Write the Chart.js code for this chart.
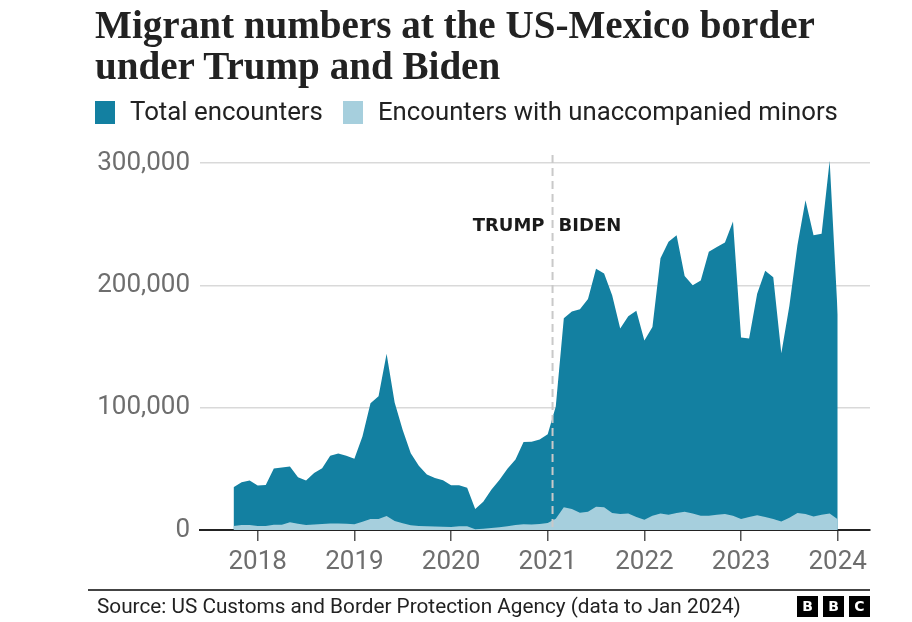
<!DOCTYPE html>
<html>
<head>
<meta charset="utf-8">
<script src="https://cdn.jsdelivr.net/npm/chart.js@4.4.0/dist/chart.umd.min.js"></script>
<style>
html,body{margin:0;padding:0;background:#fff;}
#wrap{position:relative;width:912px;height:622px;overflow:hidden;background:#fff;}
#c{position:absolute;left:0;top:0;}
.t{position:absolute;white-space:nowrap;margin:0;padding:0;}
.sq{position:absolute;width:20px;height:23px;}
.rule{position:absolute;left:88px;top:589px;width:782px;height:1.5px;background:#444;}
.bbc{position:absolute;top:596px;width:21px;height:21px;background:#000;color:#fff;font:700 14px "DejaVu Sans",sans-serif;line-height:21px;text-align:center;}
</style>
</head>
<body>
<div id="wrap">
  <canvas id="c" width="912" height="622"></canvas>
  <div class="t" id="title1"></div>
  <div class="t" id="title2"></div>
  <div class="sq" style="left:95px;top:101px;background:#1380a1"></div>
  <div class="t" id="leg1"></div>
  <div class="sq" style="left:343px;top:101px;background:#a6cfdd"></div>
  <div class="t" id="leg2"></div>
  <div class="rule"></div>
  <div class="t" id="source"></div>
  <div class="bbc" style="left:797px">B</div>
  <div class="bbc" style="left:823px">B</div>
  <div class="bbc" style="left:849px">C</div>
</div>
<script>
// ---------------- DATA ----------------
const months = [
  "2017-10","2017-11","2017-12",
  "2018-01","2018-02","2018-03","2018-04","2018-05","2018-06","2018-07","2018-08","2018-09","2018-10","2018-11","2018-12",
  "2019-01","2019-02","2019-03","2019-04","2019-05","2019-06","2019-07","2019-08","2019-09","2019-10","2019-11","2019-12",
  "2020-01","2020-02","2020-03","2020-04","2020-05","2020-06","2020-07","2020-08","2020-09","2020-10","2020-11","2020-12",
  "2021-01","2021-02","2021-03","2021-04","2021-05","2021-06","2021-07","2021-08","2021-09","2021-10","2021-11","2021-12",
  "2022-01","2022-02","2022-03","2022-04","2022-05","2022-06","2022-07","2022-08","2022-09","2022-10","2022-11","2022-12",
  "2023-01","2023-02","2023-03","2023-04","2023-05","2023-06","2023-07","2023-08","2023-09","2023-10","2023-11","2023-12",
  "2024-01"
];
const totalEncounters = [
  34900, 39100, 40500,
  36500, 36800, 50300, 51200, 51900, 43200, 40500, 46700, 50600, 60800, 62500, 60800,
  58300, 76500, 103700, 109400, 144100, 104300, 81800, 62700, 52500, 45300, 42600, 40600,
  36600, 36700, 34500, 17100, 23200, 33000, 40900, 50000, 57700, 71900, 72100, 74000,
  78400, 101100, 173300, 178800, 180600, 189000, 213600, 209800, 192000, 164800, 174800, 179300,
  154900, 166000, 222200, 235800, 241100, 207800, 200200, 204100, 227500, 231500, 235200, 252300,
  157400, 156600, 193200, 212000, 206700, 144600, 183500, 233000, 269700, 241000, 242400, 302000,
  176200
];
const unaccompaniedMinors = [
  3200, 4000, 4100,
  3200, 3200, 4200, 4300, 6400, 5100, 4000, 4400, 4900, 5300, 5300, 5200,
  4800, 6800, 9000, 8900, 11500, 7400, 5600, 3900, 3200, 3100, 2800, 2600,
  2500, 3100, 3100, 700, 1000, 1600, 2300, 3100, 4100, 4800, 4400, 4900,
  5700, 9300, 18700, 17100, 14100, 15000, 19000, 18700, 14000, 13000, 13500, 10600,
  8400, 11700, 13500, 12400, 14000, 15000, 13500, 11700, 11700, 12400, 13000, 11700,
  9000, 10600, 12000, 10600, 9000, 7000, 10000, 14000, 13000, 11000, 12500, 13500,
  8700
];
const yearTicks = [2018, 2019, 2020, 2021, 2022, 2023, 2024];
const valueTicks = [0, 100000, 200000, 300000];
const inauguration = 2021.05; // Jan 20, 2021 (Trump -> Biden)

const titleLines = ["Migrant numbers at the US-Mexico border", "under Trump and Biden"];
const legendLabels = ["Total encounters", "Encounters with unaccompanied minors"];
const sourceText = "Source: US Customs and Border Protection Agency (data to Jan 2024)";

// ---------------- TEXT PLACEMENT ----------------
const meas = document.createElement('canvas').getContext('2d');
function fitSize(family, weight, text, targetW){
  meas.font = weight + ' 100px ' + family;
  return 100 * targetW / meas.measureText(text).width;
}
function place(id, family, weight, size, text, left, baseline, color){
  const el = document.getElementById(id);
  meas.font = weight + ' ' + size + 'px ' + family;
  const m = meas.measureText(text);
  const A = m.fontBoundingBoxAscent, D = m.fontBoundingBoxDescent;
  el.textContent = text;
  el.style.font = weight + ' ' + size + 'px ' + family;
  el.style.lineHeight = size + 'px';
  el.style.color = color;
  el.style.left = left + 'px';
  el.style.top = (baseline - A - (size - A - D) / 2) + 'px';
}
const serif = '"Liberation Serif", serif';
const sans = 'Roboto, "Open Sans", sans-serif';
const tSize = fitSize(serif, 700, titleLines[0], 720);
place('title1', serif, 700, tSize, titleLines[0], 95, 38, '#222');
place('title2', serif, 700, tSize, titleLines[1], 95, 79, '#222');
place('leg1', sans, 400, fitSize(sans, 400, legendLabels[0], 193), legendLabels[0], 130, 121, '#222');
place('leg2', sans, 400, fitSize(sans, 400, legendLabels[1], 460), legendLabels[1], 378, 121, '#222');
place('source', sans, 400, fitSize(sans, 400, sourceText, 644), sourceText, 97, 613, '#222');

// ---------------- CHART ----------------
function toYear(s){ const p = s.split('-'); return +p[0] + (+p[1] - 1) / 12; }

const eraPlugin = {
  id: 'era',
  afterDatasetsDraw(chart){
    const {ctx, scales:{x, y}} = chart;
    const px = x.getPixelForValue(inauguration);
    ctx.save();
    ctx.strokeStyle = '#c9c9c9';
    ctx.lineWidth = 2;
    ctx.setLineDash([8, 5]);
    ctx.beginPath();
    ctx.moveTo(px, 155);
    ctx.lineTo(px, y.getPixelForValue(0));
    ctx.stroke();
    ctx.setLineDash([]);
    ctx.fillStyle = '#1a1a1a';
    ctx.font = '700 18px "DejaVu Sans", sans-serif';
    ctx.textBaseline = 'alphabetic';
    ctx.textAlign = 'right';
    ctx.fillText('TRUMP', px - 8, 231);
    ctx.textAlign = 'left';
    ctx.fillText('BIDEN', px + 6, 231);
    ctx.restore();
  }
};

new Chart(document.getElementById('c'), {
  type: 'line',
  data: {
    datasets: [
      {
        label: legendLabels[1],
        data: months.map((m, i) => ({x: toYear(m), y: unaccompaniedMinors[i]})),
        backgroundColor: '#a6cfdd',
        borderWidth: 0,
        pointRadius: 0,
        fill: 'origin',
        tension: 0,
        order: 0
      },
      {
        label: legendLabels[0],
        data: months.map((m, i) => ({x: toYear(m), y: totalEncounters[i]})),
        backgroundColor: '#1380a1',
        borderWidth: 0,
        pointRadius: 0,
        fill: 'origin',
        tension: 0,
        order: 1
      }
    ]
  },
  options: {
    responsive: false,
    animation: false,
    devicePixelRatio: 1,
    layout: {padding: {top: 151, right: 42, left: 0, bottom: 0}},
    plugins: {legend: {display: false}, tooltip: {enabled: false}},
    scales: {
      x: {
        type: 'linear',
        min: 2017.403,
        max: 2024.334,
        afterBuildTicks: s => { s.ticks = yearTicks.map(v => ({value: v})); },
        afterFit: s => { s.height = 92; },
        ticks: {
          callback: v => String(v),
          color: '#6e6e6e',
          font: {family: 'Roboto', size: 26},
          padding: 6,
          maxRotation: 0,
          autoSkip: false
        },
        grid: {drawOnChartArea: false, drawTicks: true, tickLength: 11, color: '#555', lineWidth: 1.5},
        border: {display: true, color: '#222', width: 2}
      },
      y: {
        min: 0,
        max: 310000,
        afterBuildTicks: s => { s.ticks = valueTicks.map(v => ({value: v})); },
        afterFit: s => { s.width = 200; },
        ticks: {
          callback: v => v.toLocaleString('en-US'),
          color: '#6e6e6e',
          font: {family: 'Roboto', size: 26},
          padding: 10
        },
        grid: {color: '#d9d9d9', lineWidth: 1.5, drawTicks: false},
        border: {display: false}
      }
    }
  },
  plugins: [eraPlugin]
});
</script>
</body>
</html>
